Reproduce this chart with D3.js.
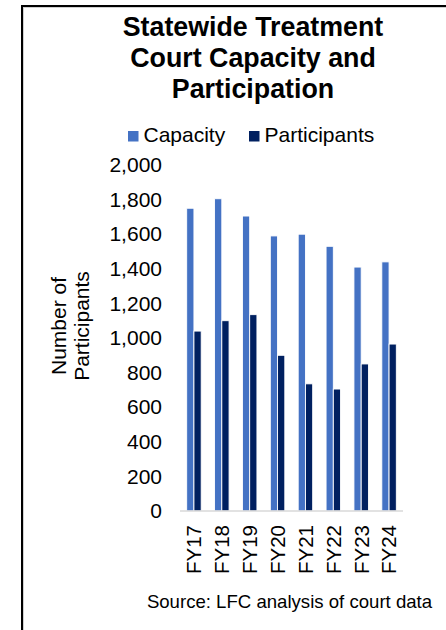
<!DOCTYPE html>
<html>
<head>
<meta charset="utf-8">
<script src="https://cdn.jsdelivr.net/npm/d3@7"></script>
<style>
  html, body { margin: 0; padding: 0; background: #fff; }
  svg { display: block; font-family: "Liberation Sans", Arial, sans-serif; }
</style>
</head>
<body>
<svg id="chart" width="446" height="630"></svg>
<script>
// Fiscal years shown on the x axis
const categories = ["FY17", "FY18", "FY19", "FY20", "FY21", "FY22", "FY23", "FY24"];
// Statewide treatment court capacity (slots)
const capacity = [1750, 1805, 1705, 1590, 1600, 1530, 1410, 1440];
// Active participants
const participants = [1040, 1100, 1135, 900, 735, 705, 850, 965];
const seriesNames = ["Capacity", "Participants"];
const seriesColors = ["#4472C4", "#002060"];
const yTicks = [0, 200, 400, 600, 800, 1000, 1200, 1400, 1600, 1800, 2000];
const titleLines = ["Statewide Treatment", "Court Capacity and", "Participation"];
const yTitleLines = ["Number of", "Participants"];
const sourceText = "Source: LFC analysis of court data";

const svg = d3.select("#chart");

// Frame (top and left edges with a faint shadow)
svg.append("line").attr("x1", 21).attr("x2", 446).attr("y1", 7.5).attr("y2", 7.5)
  .attr("stroke", "#d0d0d0").attr("stroke-width", 1);
svg.append("line").attr("x1", 23.5).attr("x2", 23.5).attr("y1", 6).attr("y2", 630)
  .attr("stroke", "#d0d0d0").attr("stroke-width", 1);
svg.append("line").attr("x1", 21).attr("x2", 446).attr("y1", 6).attr("y2", 6)
  .attr("stroke", "#000").attr("stroke-width", 2);
svg.append("line").attr("x1", 22).attr("x2", 22).attr("y1", 5).attr("y2", 630)
  .attr("stroke", "#000").attr("stroke-width", 2);

// Title
svg.append("text")
  .attr("x", 253).attr("text-anchor", "middle")
  .attr("font-size", 26.8).attr("font-weight", "bold").attr("fill", "#000")
  .selectAll("tspan").data(titleLines).join("tspan")
  .attr("x", 253).attr("y", (d, i) => 36 + i * 31)
  .text(d => d);

// Legend
const legend = svg.append("g");
const legendX = [128, 249];
seriesNames.forEach((name, i) => {
  legend.append("rect").attr("x", legendX[i]).attr("y", 131)
    .attr("width", 10.5).attr("height", 10.5).attr("fill", seriesColors[i]);
  legend.append("text").attr("x", legendX[i] + 15.5).attr("y", 142)
    .attr("font-size", 21).attr("fill", "#000").text(name);
});

// Scales
const x = d3.scaleBand().domain(categories).range([180, 403])
  .paddingInner(0.48).paddingOuter(0.24);
const xs = d3.scaleBand().domain(seriesNames).range([0, x.bandwidth()]);
const y = d3.scaleLinear().domain([0, 2000]).range([511, 165]);

// Y axis labels
const yAxis = d3.axisLeft(y).tickValues(yTicks).tickSize(0).tickPadding(0)
  .tickFormat(d3.format(","));
const gy = svg.append("g").attr("transform", "translate(162,0)").call(yAxis);
gy.select(".domain").remove();
gy.selectAll("text").attr("font-size", 21).attr("fill", "#000")
  .attr("font-family", "Liberation Sans, Arial, sans-serif");

// Bars
const rows = categories.map((c, i) => ({ cat: c, values: [capacity[i], participants[i]] }));
const groups = svg.append("g").selectAll("g").data(rows).join("g")
  .attr("transform", d => `translate(${x(d.cat)},0)`);
groups.selectAll("rect")
  .data(d => d.values.map((v, j) => ({ key: seriesNames[j], value: v, color: seriesColors[j] })))
  .join("rect")
  .attr("x", d => xs(d.key))
  .attr("width", xs.bandwidth())
  .attr("y", d => y(d.value))
  .attr("height", d => y(0) - y(d.value))
  .attr("fill", d => d.color)
  .attr("stroke", "#ffffff").attr("stroke-width", 0.9);

// X axis
const xAxis = d3.axisBottom(x).tickSize(0).tickPadding(0);
const gx = svg.append("g").attr("transform", `translate(0,${y(0)})`).call(xAxis);
gx.select(".domain").attr("stroke", "#d9d9d9").attr("stroke-width", 1.5)
  .attr("d", `M180,0H403`);
gx.selectAll("text")
  .attr("font-size", 20.5).attr("fill", "#000")
  .attr("font-family", "Liberation Sans, Arial, sans-serif")
  .attr("text-anchor", "end")
  .attr("transform", "rotate(-90)")
  .attr("x", -14).attr("y", 0).attr("dy", "0.36em");

// Y axis title
svg.append("text")
  .attr("transform", "translate(0,326) rotate(-90)")
  .attr("text-anchor", "middle").attr("font-size", 21).attr("fill", "#000")
  .selectAll("tspan").data(yTitleLines).join("tspan")
  .attr("x", 0).attr("y", (d, i) => 66 + i * 23)
  .text(d => d);

// Source note
svg.append("text").attr("x", 289.5).attr("y", 608)
  .attr("text-anchor", "middle").attr("font-size", 18.6).attr("fill", "#000")
  .text(sourceText);
</script>
</body>
</html>
